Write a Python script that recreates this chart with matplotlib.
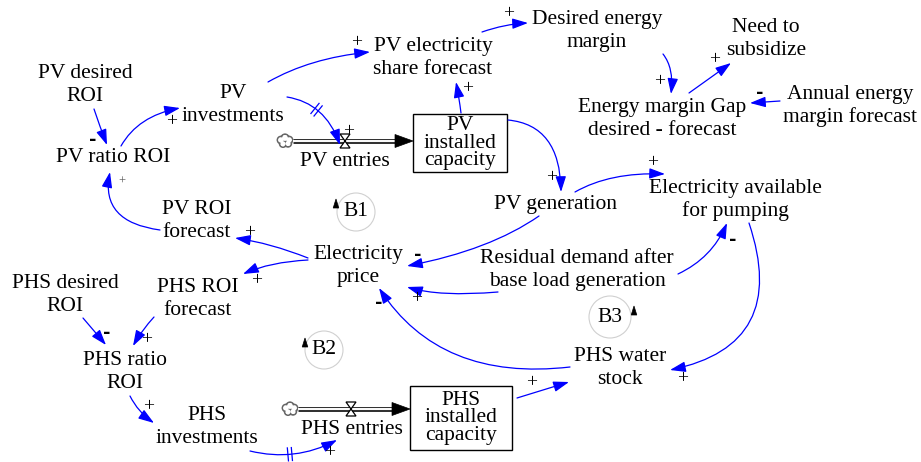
import matplotlib
matplotlib.use("Agg")
import matplotlib.pyplot as plt
from matplotlib.patches import FancyArrowPatch, Circle, Rectangle, Polygon
from matplotlib.path import Path
import numpy as np

# ---------------- content ----------------
variables = [
    "PV desired\nROI", "PV ratio ROI", "PV\ninvestments", "PV electricity\nshare forecast",
    "Desired energy\nmargin", "Need to\nsubsidize", "Energy margin Gap\ndesired - forecast",
    "Annual energy\nmargin forecast", "PV entries", "PV generation",
    "Electricity available\nfor pumping", "PV ROI\nforecast", "Electricity\nprice",
    "Residual demand after\nbase load generation", "PHS desired\nROI", "PHS ROI\nforecast",
    "PHS ratio\nROI", "PHS water\nstock", "PHS\ninvestments", "PHS entries",
]
stocks = ["PV\ninstalled\ncapacity", "PHS\ninstalled\ncapacity"]
loops = ["B1", "B2", "B3"]

# causal links: source, target, polarity
link_src = ["PV desired\nROI", "PV ratio ROI", "PV ROI\nforecast", "PV\ninvestments",
            "PV\ninvestments", "PV\ninstalled\ncapacity", "PV electricity\nshare forecast",
            "Desired energy\nmargin", "Energy margin Gap\ndesired - forecast",
            "Annual energy\nmargin forecast", "PV\ninstalled\ncapacity", "PV generation",
            "PV generation", "Residual demand after\nbase load generation",
            "Residual demand after\nbase load generation", "Electricity available\nfor pumping",
            "PHS water\nstock", "Electricity\nprice", "Electricity\nprice", "PHS desired\nROI",
            "PHS ROI\nforecast", "PHS ratio\nROI", "PHS\ninvestments", "PHS\ninstalled\ncapacity"]
link_dst = ["PV ratio ROI", "PV\ninvestments", "PV ratio ROI", "PV electricity\nshare forecast",
            "PV entries", "PV electricity\nshare forecast", "Desired energy\nmargin",
            "Energy margin Gap\ndesired - forecast", "Need to\nsubsidize",
            "Energy margin Gap\ndesired - forecast", "PV generation",
            "Electricity available\nfor pumping", "Electricity\nprice", "Electricity\nprice",
            "Electricity available\nfor pumping", "PHS water\nstock", "Electricity\nprice",
            "PV ROI\nforecast", "PHS ROI\nforecast", "PHS ratio\nROI", "PHS ratio\nROI",
            "PHS\ninvestments", "PHS entries", "PHS water\nstock"]
link_pol = ["-", "+", "+s", "+", "+", "+", "+", "+", "+", "-", "+", "+", "-", "+", "-", "+",
            "-", "+", "+", "-", "+", "+", "+", "+"]
link_delay = [False, False, False, False, True, False, False, False, False, False, False, False,
              False, False, False, False, False, False, False, False, False, False, True, False]

# ---------------- layout ----------------
node_pos = {
    "PV desired\nROI": (85, 85), "PV ratio ROI": (113, 158), "PV\ninvestments": (233, 105),
    "PV electricity\nshare forecast": (433, 58), "Desired energy\nmargin": (597, 31),
    "Need to\nsubsidize": (766, 39), "Energy margin Gap\ndesired - forecast": (662, 119),
    "Annual energy\nmargin forecast": (850, 106), "PV entries": (345, 162),
    "PV generation": (555, 205), "Electricity available\nfor pumping": (735, 200),
    "PV ROI\nforecast": (197, 221), "Electricity\nprice": (358, 266),
    "Residual demand after\nbase load generation": (577, 270), "PHS desired\nROI": (65, 295),
    "PHS ROI\nforecast": (198, 299), "PHS ratio\nROI": (125, 372), "PHS water\nstock": (620, 368),
    "PHS\ninvestments": (207, 427), "PHS entries": (352, 430),
}
stock_box = {"PV\ninstalled\ncapacity": (413, 114, 507, 172),
             "PHS\ninstalled\ncapacity": (410, 386, 512, 450)}
flow_geom = [  # cloud x, pipe y, arrow tip x, valve x
    (285, 141, 413, 345),
    (290, 409, 410, 351),
]
loop_geom = {"B1": ((356, 212), 19, (336, 205)),
             "B2": ((324, 350), 19, (305, 344)),
             "B3": ((610, 317), 21, (634, 312))}
link_geom = [  # start, control, end, polarity position
    ((94, 109), (100, 127), (107, 145), (93, 140)),
    ((121, 146), (138, 116), (180, 108), (172, 122)),
    ((160, 230), (100, 222), (110, 172), (122, 182)),
    ((268, 82), (310, 58), (370, 52), (357, 43)),
    ((287, 97), (325, 103), (340, 145), (349, 132)),
    ((461, 113), (459, 97), (456, 82), (468, 89)),
    ((482, 32), (505, 24), (528, 23), (509, 14)),
    ((663, 54), (674, 68), (671, 94), (660, 82)),
    ((689, 93), (710, 78), (731, 63), (715, 60)),
    ((780, 101), (765, 102), (750, 103), (760, 93)),
    ((508, 120), (560, 125), (561, 192), (552, 178)),
    ((575, 192), (610, 172), (665, 174), (653, 163)),
    ((539, 216), (490, 250), (407, 266), (418, 255)),
    ((498, 292), (440, 297), (407, 287), (417, 299)),
    ((678, 274), (712, 258), (727, 223), (733, 240)),
    ((749, 223), (790, 345), (670, 370), (683, 379)),
    ((570, 367), (440, 382), (379, 288), (379, 303)),
    ((308, 258), (270, 243), (235, 238), (250, 233)),
    ((308, 260), (270, 262), (243, 274), (257, 281)),
    ((83, 318), (95, 332), (106, 345), (107, 333)),
    ((154, 317), (142, 330), (133, 346), (147, 340)),
    ((130, 396), (138, 412), (154, 423), (149, 407)),
    ((250, 451), (295, 462), (337, 440), (330, 453)),
    ((517, 398), (543, 390), (569, 382), (532, 383)),
]

FONT = "Liberation Serif"
FS = 15.5
BLUE = "#0000ff"

fig = plt.figure(figsize=(9.21, 4.62), dpi=100)
ax = fig.add_axes([0, 0, 1, 1])
ax.set_xlim(0, 921)
ax.set_ylim(462, 0)
ax.axis("off")

# variables
for name in variables:
    x, y = node_pos[name]
    ax.text(x, y, name, ha="center", va="center", family=FONT, fontsize=FS,
            linespacing=1.27, color="black", zorder=3)

# stocks
for name in stocks:
    x0, y0, x1, y1 = stock_box[name]
    ax.add_patch(Rectangle((x0, y0), x1 - x0, y1 - y0, fill=False, ec="black", lw=1.0, zorder=3))
    ax.text((x0 + x1) / 2, (y0 + y1) / 2, name, ha="center", va="center", family=FONT,
            fontsize=FS, linespacing=0.9, zorder=3)


def cloud(cx, cy):
    bumps = [(-4, -1, 3.6), (0, -3, 3.8), (4, -1, 3.6), (3, 2.5, 3.4), (-2, 2.8, 3.4)]
    for dx, dy, r in bumps:
        ax.add_patch(Circle((cx + dx, cy + dy), r, fc="none", ec="#666666", lw=1.2, zorder=2))
    for dx, dy, r in bumps:
        ax.add_patch(Circle((cx + dx, cy + dy), r - 0.9, fc="white", ec="none", zorder=2.1))


for (cx, py, tipx, vx) in flow_geom:
    cloud(cx, py)
    ax.plot([cx + 8, tipx - 16], [py, py], color="#333333", lw=3.6, solid_capstyle="butt", zorder=2)
    ax.plot([cx + 8, tipx - 16], [py, py], color="white", lw=1.4, solid_capstyle="butt", zorder=2.2)
    ax.add_patch(Polygon([(tipx, py), (tipx - 18, py - 6.5), (tipx - 18, py + 6.5)],
                         closed=True, fc="black", ec="black", lw=0.5, zorder=2.3))
    hw, hh = 5, 7
    ax.add_patch(Polygon([(vx - hw, py - hh), (vx + hw, py - hh), (vx - hw, py + hh),
                          (vx + hw, py + hh)], closed=True, fc="white", ec="black",
                         lw=0.9, zorder=2.5))

# loops
for name in loops:
    (cx, cy), r, (tx, ty) = loop_geom[name]
    ax.add_patch(Circle((cx, cy), r, fill=False, ec="#d0d0d0", lw=0.8, zorder=1))
    ax.text(cx, cy, name, ha="center", va="center", family=FONT, fontsize=FS, zorder=3)
    ax.add_patch(Polygon([(tx, ty - 6), (tx - 2.8, ty + 3), (tx + 2.8, ty + 3)], closed=True,
                         fc="black", ec="black", lw=0.5, zorder=3))


def bez(p0, c, p1, t):
    p0, c, p1 = map(np.asarray, (p0, c, p1))
    pt = (1 - t) ** 2 * p0 + 2 * t * (1 - t) * c + t ** 2 * p1
    d = 2 * (1 - t) * (c - p0) + 2 * t * (p1 - c)
    return pt, d / np.linalg.norm(d)


# links
for (p0, c, p1, pp), pol, delay in zip(link_geom, link_pol, link_delay):
    path = Path([p0, c, p1], [Path.MOVETO, Path.CURVE3, Path.CURVE3])
    ax.add_patch(FancyArrowPatch(path=path, arrowstyle="-|>,head_length=0.95,head_width=0.32",
                                 mutation_scale=10, color=BLUE, lw=0.9, zorder=4))
    if delay:
        pt, d = bez(p0, c, p1, 0.45)
        n = np.array([-d[1], d[0]])
        for s in (-2.0, 2.0):
            a = pt + d * s - n * 6.5
            b = pt + d * s + n * 6.5
            ax.plot([a[0], b[0]], [a[1], b[1]], color=BLUE, lw=0.9, zorder=4)
    if pol == "-":
        ax.text(pp[0], pp[1], "-", ha="center", va="center", family="DejaVu Sans",
                fontsize=13, fontweight="bold", zorder=5)
    elif pol == "+s":
        ax.text(pp[0], pp[1], "+", ha="center", va="center", family=FONT, fontsize=9,
                color="#555555", zorder=5)
    else:
        ax.text(pp[0], pp[1], "+", ha="center", va="center", family=FONT, fontsize=14, zorder=5)

fig.savefig("out.png", dpi=100)
